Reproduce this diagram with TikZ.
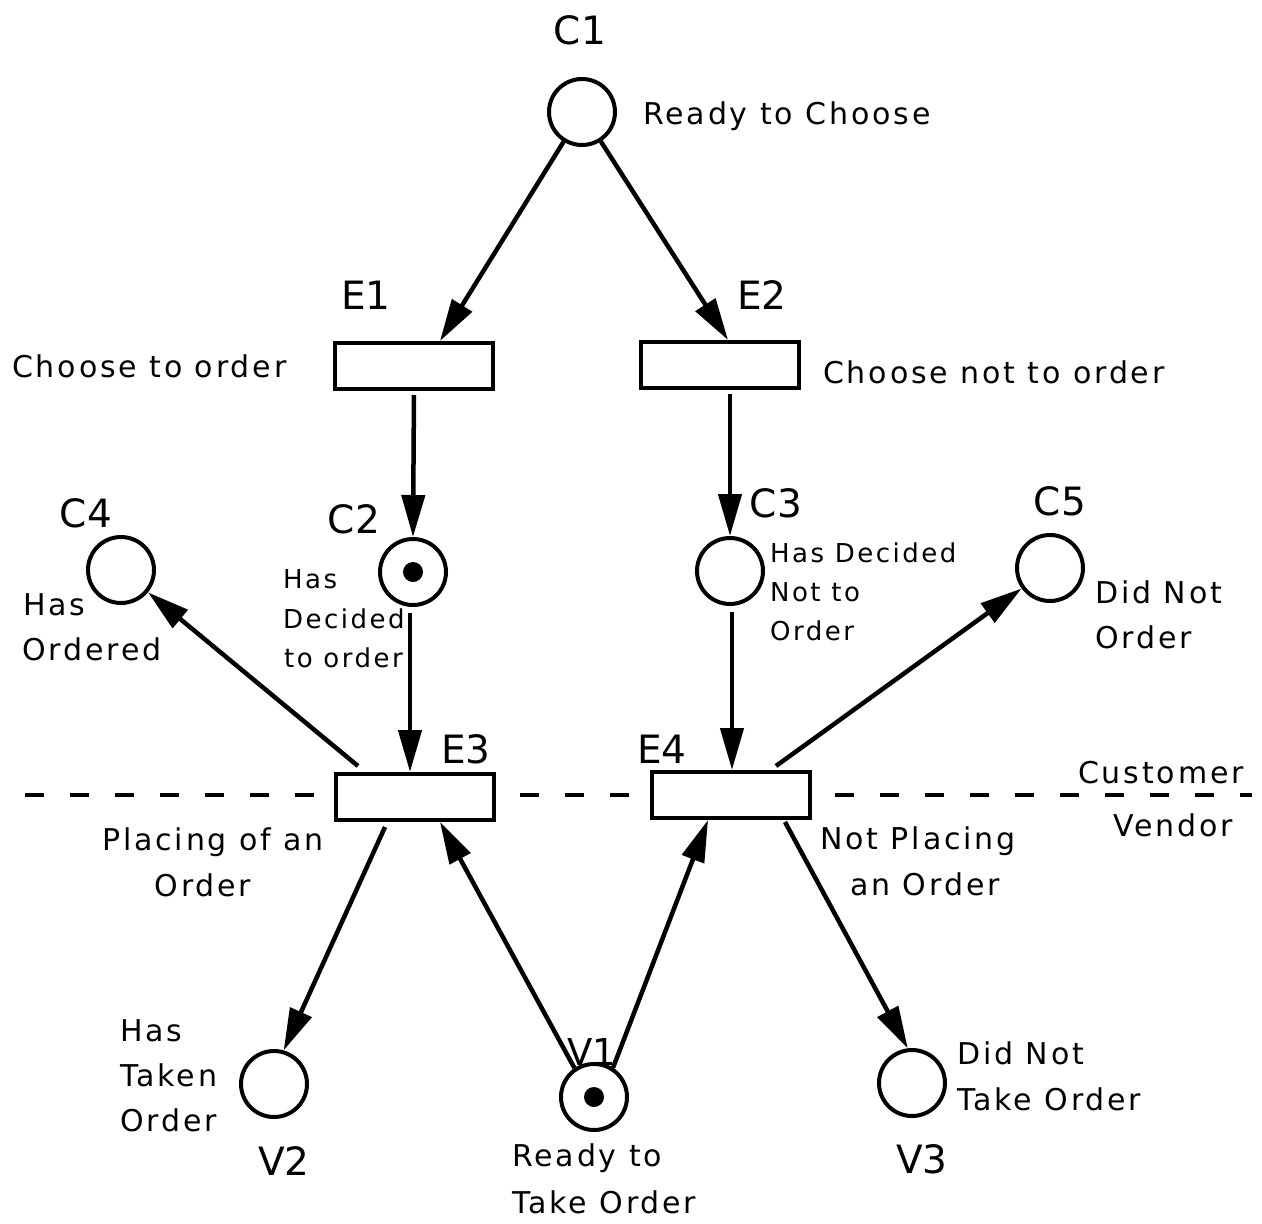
\documentclass[tikz,border=0pt]{standalone}
\usepackage{fontspec}
\setmainfont{DejaVu Sans}[LetterSpace=9.5]
\newfontfamily\tagfont{DejaVu Sans}
\usetikzlibrary{arrows.meta}
\begin{document}
\begin{tikzpicture}[x=1pt,y=-1pt,
  place/.style={circle,draw,line width=4pt,minimum size=66pt,inner sep=0pt,fill=white},
  transition/.style={rectangle,draw,line width=4pt,minimum width=158pt,minimum height=46pt,inner sep=0pt,fill=white},
  token/.style={circle,fill=black,minimum size=20pt,inner sep=0pt},
  arc/.style={line width=4.5pt,-{Triangle[length=42pt,width=23pt]}},
  tag/.style={inner sep=0pt,font=\tagfont\fontsize{39}{39}\selectfont},
  smalltag/.style={inner sep=0pt,font=\tagfont\fontsize{37}{37}\selectfont},
  txt/.style={inner sep=0pt,font=\fontsize{30}{30}\selectfont},
  smalltxt/.style={inner sep=0pt,font=\fontsize{26}{26}\selectfont},
  boundary/.style={line width=4pt,dash pattern=on 19pt off 26pt}]
\useasboundingbox (0,0) rectangle (1262,1224);

% customer / vendor boundary
\coordinate (bL) at (25,795);
\coordinate (bR) at (1252,795);
\draw[boundary] (bL) -- (bR);

% places
\node[place] (C1) at (582,112) {};
\node[place] (C2) at (413,572) {};
\node[token] (C2t) at (C2) {};
\node[place] (C3) at (730,571) {};
\node[place] (C4) at (121,570) {};
\node[place] (C5) at (1050,568) {};
\node[place] (V1) at (594,1097) {};
\node[token] (V1t) at (V1) {};
\node[place] (V2) at (274,1084) {};
\node[place] (V3) at (912,1083) {};

% transitions
\node[transition] (E1) at (414,366) {};
\node[transition] (E2) at (720,365) {};
\node[transition] (E3) at (415,797) {};
\node[transition] (E4) at (731,795) {};

% identifiers
\node[tag,anchor=base] (C1l) at (580,44) {C1};
\node[tag,anchor=base] (E1l) at (366,309) {E1};
\node[tag,anchor=base] (E2l) at (762,309) {E2};
\node[tag,anchor=base] (C2l) at (354,533) {C2};
\node[tag,anchor=base] (C3l) at (776,517) {C3};
\node[tag,anchor=base] (C4l) at (86,527) {C4};
\node[tag,anchor=base] (C5l) at (1060,515) {C5};
\node[tag,anchor=base] (E3l) at (466,763) {E3};
\node[tag,anchor=base] (E4l) at (662,763) {E4};
\node[smalltag,anchor=base] (V1l) at (592,1065) {V1};
\node[tag,anchor=base] (V2l) at (284,1175) {V2};
\node[tag,anchor=base] (V3l) at (922,1173) {V3};

% descriptions
\node[txt,anchor=base west] (t1) at (643,124) {Ready to Choose};
\node[txt,anchor=base west] (t2) at (12,377) {Choose to order};
\node[txt,anchor=base west] (t3) at (823,383) {Choose not to order};
\node[smalltxt,anchor=base west] (t4a) at (283,588) {Has};
\node[smalltxt,anchor=base west] (t4b) at (283,628) {Decided};
\node[smalltxt,anchor=base west] (t4c) at (284,667) {to order};
\node[smalltxt,anchor=base west] (t5a) at (770,562) {Has Decided};
\node[smalltxt,anchor=base west] (t5b) at (770,601) {Not to};
\node[smalltxt,anchor=base west] (t5c) at (770,640) {Order};
\node[txt,anchor=base west] (t6a) at (23,615) {Has};
\node[txt,anchor=base west] (t6b) at (22,660) {Ordered};
\node[txt,anchor=base west] (t7a) at (1095,603) {Did Not};
\node[txt,anchor=base west] (t7b) at (1095,648) {Order};
\node[txt,anchor=base] (t8a) at (213,850) {Placing of an};
\node[txt,anchor=base] (t8b) at (203,896) {Order};
\node[txt,anchor=base] (t9a) at (918,849) {Not Placing};
\node[txt,anchor=base] (t9b) at (925,895) {an Order};
\node[txt,anchor=base west] (cust) at (1078,783) {Customer};
\node[txt,anchor=base west] (vend) at (1113,836) {Vendor};
\node[txt,anchor=base west] (t10a) at (120,1041) {Has};
\node[txt,anchor=base west] (t10b) at (120,1086) {Taken};
\node[txt,anchor=base west] (t10c) at (120,1131) {Order};
\node[txt,anchor=base west] (t11a) at (512,1166) {Ready to};
\node[txt,anchor=base west] (t11b) at (512,1213) {Take Order};
\node[txt,anchor=base west] (t12a) at (957,1064) {Did Not};
\node[txt,anchor=base west] (t12b) at (957,1110) {Take Order};

% arcs
\draw[arc] (C1) -- ([xshift=26pt]E1.north);
\draw[arc] (C1) -- ([xshift=8pt]E2.north);
\draw[arc,shorten <=4pt] (E1.south) -- (C2.north);
\draw[arc,shorten <=4pt] ([xshift=10pt]E2.south) -- (C3.north);
\draw[arc,shorten <=6pt] ([xshift=-3pt]C2.south) -- ([xshift=-5pt]E3.north);
\draw[arc,shorten <=6pt] ([xshift=2pt]C3.south) -- ([xshift=1pt]E4.north);
\draw[arc] ([xshift=-57pt,yshift=6pt]E3.north) -- (C4);
\draw[arc] ([xshift=45pt,yshift=4pt]E4.north) -- (C5);
\draw[arc] ([xshift=-30pt,yshift=-5pt]E3.south) -- (V2.74);
\draw[arc] (V1.124) -- ([xshift=25pt]E3.south);
\draw[arc] (V1.57) -- ([xshift=-23pt]E4.south);
\draw[arc] ([xshift=54pt,yshift=-2pt]E4.south) -- (V3.97);
\end{tikzpicture}
\end{document}
